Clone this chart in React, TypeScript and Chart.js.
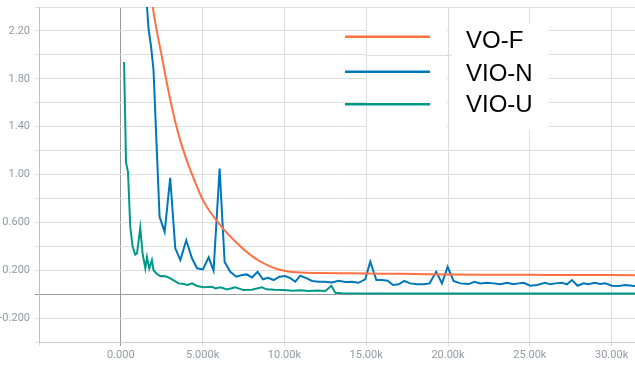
import React, { useEffect, useRef } from 'react';
import { Chart, registerables } from 'chart.js';

Chart.register(...registerables);

// ---- Data ----
const seriesNames = ['VO-F', 'VIO-N', 'VIO-U'];
const seriesColors = ['#ff7043', '#0077bb', '#009988'];

const voSteps = [0, 500, 1000, 1500, 2000, 2500, 3000, 3500, 4000, 4500, 5000, 5500, 6000, 6500, 7000, 7500, 8000, 8500, 9000, 9500, 10000, 10500, 11000, 12000, 14000, 16000, 18000, 20000, 22000, 24000, 26000, 28000, 30000, 31500];
const voValues = [5.3, 4.35, 3.55, 2.9, 2.36, 1.99, 1.64, 1.35, 1.13, 0.95, 0.79, 0.68, 0.59, 0.51, 0.44, 0.375, 0.32, 0.275, 0.24, 0.212, 0.195, 0.185, 0.18, 0.177, 0.174, 0.171, 0.168, 0.165, 0.163, 0.162, 0.161, 0.16, 0.159, 0.158];

const vionSteps = [500, 1000, 1550, 1700, 1850, 2000, 2370, 2680, 3020, 3330, 3640, 4000, 4350, 4660, 5020, 5370, 5670, 6040, 6345, 6690, 7060, 7410, 7700, 8020, 8360, 8690, 9000, 9340, 9700, 10050, 10380, 10665, 10970, 11380, 11690, 12090, 12500, 12910, 13310, 13720, 14130, 14530, 14940, 15250, 15620, 15960, 16310, 16640, 16980, 17330, 17690, 18100, 18510, 18870, 19280, 19630, 19980, 20340, 20750, 21260, 21620, 21970, 22380, 22790, 23200, 23600, 24010, 24310, 24620, 25030, 25440, 25940, 26250, 26560, 26970, 27270, 27580, 27920, 28290, 28590, 28960, 29310, 29610, 30020, 30430, 30840, 31240, 31450];
const vionValues = [6.0, 4.0, 2.5, 2.21, 2.07, 1.87, 0.647, 0.52, 0.973, 0.383, 0.285, 0.45, 0.3, 0.216, 0.207, 0.308, 0.196, 1.05, 0.27, 0.187, 0.146, 0.16, 0.165, 0.14, 0.187, 0.124, 0.137, 0.118, 0.146, 0.151, 0.132, 0.104, 0.154, 0.132, 0.11, 0.104, 0.104, 0.098, 0.112, 0.101, 0.104, 0.095, 0.124, 0.271, 0.118, 0.118, 0.112, 0.076, 0.082, 0.11, 0.09, 0.082, 0.082, 0.09, 0.187, 0.09, 0.229, 0.11, 0.09, 0.084, 0.104, 0.09, 0.095, 0.09, 0.082, 0.095, 0.082, 0.09, 0.095, 0.07, 0.076, 0.095, 0.082, 0.09, 0.095, 0.082, 0.118, 0.07, 0.09, 0.082, 0.095, 0.084, 0.09, 0.07, 0.068, 0.076, 0.07, 0.068];

const viouSteps = [200, 320, 440, 580, 720, 880, 990, 1190, 1330, 1500, 1600, 1740, 1900, 2000, 2210, 2410, 2620, 2820, 3130, 3530, 3840, 4080, 4350, 4660, 5060, 5570, 5780, 6090, 6490, 7000, 7500, 8000, 8630, 8900, 9400, 9950, 10500, 11000, 11500, 12000, 12500, 12870, 13110, 13500, 16000, 20000, 25000, 31450];
const viouValues = [1.94, 1.1, 1.02, 0.56, 0.4, 0.33, 0.34, 0.555, 0.34, 0.215, 0.31, 0.215, 0.285, 0.2, 0.168, 0.15, 0.152, 0.146, 0.124, 0.09, 0.084, 0.076, 0.09, 0.068, 0.057, 0.062, 0.048, 0.057, 0.04, 0.057, 0.034, 0.036, 0.057, 0.04, 0.036, 0.034, 0.028, 0.032, 0.026, 0.03, 0.026, 0.07, 0.012, 0.007, 0.006, 0.006, 0.005, 0.005];

// ---- Axes ----
const xMin = -5000;
const xMax = 31430;
const xTickValues = [-5000, 0, 5000, 10000, 15000, 20000, 25000, 30000];
const xTickLabels = ['', '0.000', '5.000k', '10.00k', '15.00k', '20.00k', '25.00k', '30.00k'];
const yMin = -0.4;
const yMax = 2.4;
const yGridValues = [-0.4, -0.2, 0, 0.2, 0.4, 0.6, 0.8, 1.0, 1.2, 1.4, 1.6, 1.8, 2.0, 2.2, 2.4];
const yTickValues = [-0.2, 0.2, 0.6, 1.0, 1.4, 1.8, 2.2];
const yTickLabels = ['-0.200', '0.200', '0.600', '1.00', '1.40', '1.80', '2.20'];

const toPoints = (xs: number[], ys: number[]) => xs.map((x, i) => ({ x, y: ys[i] }));

const GRID = '#dedede';
const ZERO = '#9a9a9a';
const TICK_COLOR = '#939aa3';

const legendPlugin = {
  id: 'overlayLegend',
  afterDraw(chart: any) {
    const ctx = chart.ctx as CanvasRenderingContext2D;
    const ys = chart.scales.y;
    ctx.save();
    ctx.fillStyle = '#ffffff';
    ctx.fillRect(367, 24, 80, 106);
    ctx.fillRect(449.5, 24, 99, 106);
    // gridline that shows through the legend image
    ctx.strokeStyle = GRID;
    ctx.lineWidth = 1;
    const g = Math.round(ys.getPixelForValue(2.0)) + 0.5;
    ctx.beginPath();
    ctx.moveTo(367, g);
    ctx.lineTo(452, g);
    ctx.stroke();
    const lineYs = [36.7, 71.7, 104.3];
    const textYs = [48.3, 80.7, 112.3];
    ctx.lineWidth = 2.6;
    ctx.lineCap = 'butt';
    seriesNames.forEach((name, i) => {
      ctx.strokeStyle = seriesColors[i];
      ctx.beginPath();
      ctx.moveTo(345, lineYs[i]);
      ctx.lineTo(430, lineYs[i]);
      ctx.stroke();
      ctx.fillStyle = '#000000';
      ctx.font = '24px "Liberation Sans", Arial, sans-serif';
      ctx.textBaseline = 'alphabetic';
      ctx.textAlign = 'left';
      ctx.fillText(name, 466, textYs[i]);
    });
    ctx.restore();
  },
};

export default function App() {
  const canvasRef = useRef<HTMLCanvasElement | null>(null);

  useEffect(() => {
    document.body.style.margin = '0';
    const canvas = canvasRef.current;
    if (!canvas) return;
    const datasets = [
      { data: toPoints(voSteps, voValues), cubicInterpolationMode: 'monotone' as const },
      { data: toPoints(vionSteps, vionValues), tension: 0 },
      { data: toPoints(viouSteps, viouValues), tension: 0 },
    ].map((d, i) => ({
      label: seriesNames[i],
      borderColor: seriesColors[i],
      backgroundColor: seriesColors[i],
      borderWidth: 2,
      pointRadius: 0,
      fill: false,
      ...d,
    }));

    const chart = new Chart(canvas, {
      type: 'line',
      data: { datasets },
      plugins: [legendPlugin],
      options: {
        animation: false,
        responsive: false,
        maintainAspectRatio: false,
        devicePixelRatio: 1,
        layout: { padding: { top: 7, right: 0, left: 0, bottom: 0 } },
        plugins: { legend: { display: false }, tooltip: { enabled: false } },
        scales: {
          x: {
            type: 'linear',
            min: xMin,
            max: xMax,
            afterBuildTicks: (scale: any) => {
              scale.ticks = xTickValues.map((v) => ({ value: v }));
            },
            afterFit: (scale: any) => {
              scale.height = 25;
              scale.paddingLeft = 0;
              scale.paddingRight = 0;
            },
            ticks: {
              autoSkip: false,
              maxRotation: 0,
              padding: 3,
              color: TICK_COLOR,
              font: { family: 'Roboto, "Open Sans", sans-serif', size: 11 },
              callback: (v: any) => {
                const i = xTickValues.findIndex((t) => Math.abs(t - Number(v)) < 1e-6);
                return i >= 0 ? xTickLabels[i] : '';
              },
            },
            grid: {
              color: (c: any) => (c.tick && c.tick.value === 0 ? ZERO : GRID),
              tickLength: 4,
              lineWidth: 1,
            },
            border: { color: '#c8c8c8' },
          },
          y: {
            type: 'linear',
            min: yMin,
            max: yMax,
            afterBuildTicks: (scale: any) => {
              scale.ticks = yGridValues.map((v) => ({ value: v }));
            },
            afterFit: (scale: any) => {
              scale.width = 39;
              scale.paddingTop = 0;
              scale.paddingBottom = 0;
            },
            ticks: {
              autoSkip: false,
              padding: 5,
              color: TICK_COLOR,
              font: { family: 'Roboto, "Open Sans", sans-serif', size: 11 },
              callback: (v: any) => {
                const i = yTickValues.findIndex((t) => Math.abs(t - Number(v)) < 1e-6);
                return i >= 0 ? yTickLabels[i] : '';
              },
            },
            grid: {
              color: (c: any) => (c.tick && Math.abs(c.tick.value) < 1e-9 ? ZERO : GRID),
              tickLength: 4,
              lineWidth: 1,
            },
            border: { color: '#c0c0c0' },
          },
        },
      },
    });
    return () => chart.destroy();
  }, []);

  return (
    <div style={{ position: 'absolute', left: 0, top: 0, width: 635, height: 367, background: '#fff' }}>
      <canvas ref={canvasRef} width={635} height={367} style={{ display: 'block' }} />
    </div>
  );
}
